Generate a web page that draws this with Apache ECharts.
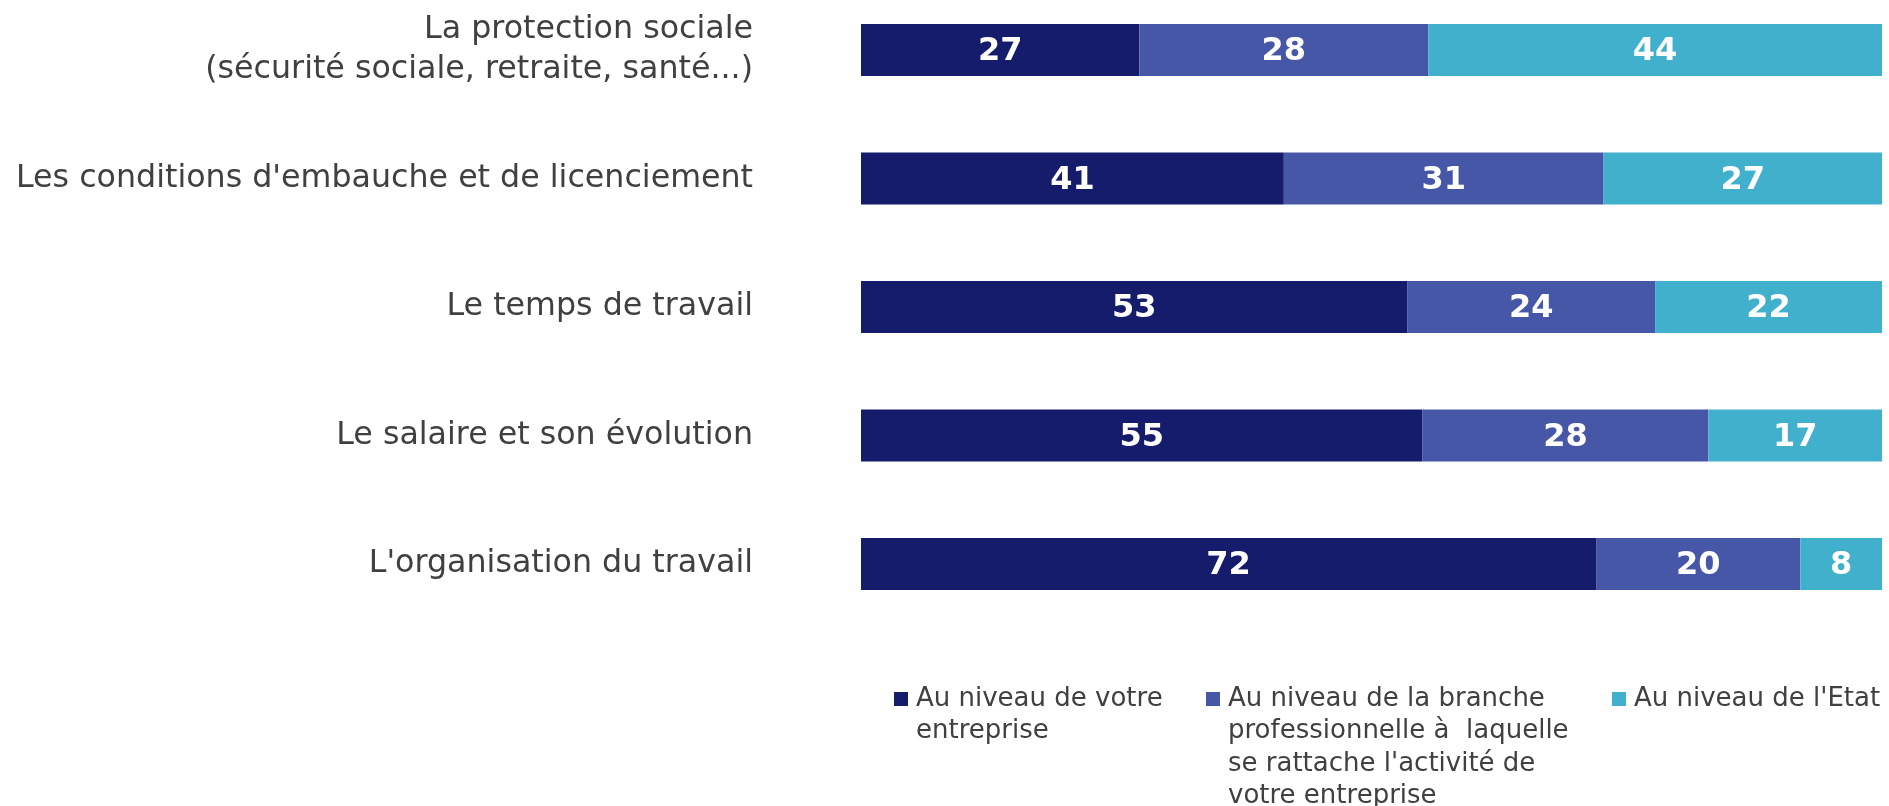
<!DOCTYPE html>
<html>
<head>
<meta charset="utf-8">
<script src="https://cdn.jsdelivr.net/npm/echarts@6/dist/echarts.min.js"></script>
<style>
html,body{margin:0;padding:0;background:#fff;}
#chart{width:1889px;height:806px;}
</style>
</head>
<body>
<div id="chart"></div>
<script>
const categories = [
  "La protection sociale\n(sécurité sociale, retraite, santé...)",
  "Les conditions d'embauche et de licenciement",
  "Le temps de travail",
  "Le salaire et son évolution",
  "L'organisation du travail"
];
const seriesNames = ["Au niveau de votre entreprise", "Au niveau de la branche professionnelle", "Au niveau de l'Etat"];
const legendLabels = [
  "Au niveau de votre\nentreprise",
  "Au niveau de la branche\nprofessionnelle à  laquelle\nse rattache l'activité de\nvotre entreprise",
  "Au niveau de l'Etat"
];
const entreprise = [27, 41, 53, 55, 72];
const branche = [28, 31, 24, 28, 20];
const etat = [44, 27, 22, 17, 8];
const colors = ["#141C6B", "#4757A7", "#41B0CC"];

const raw = [entreprise, branche, etat];
const totals = categories.map((c, i) => raw.reduce((s, arr) => s + arr[i], 0));

const FONT = "DejaVu Sans";
const LH = 32.5;
const legendLefts = [894, 1206, 1612];
const ICON_CY = 699;

const chart = echarts.init(document.getElementById('chart'));
const option = {
  animation: false,
  backgroundColor: '#ffffff',
  textStyle: {fontFamily: FONT},
  grid: {left: 861, right: 7, top: 50, height: 514, containLabel: false},
  xAxis: {type: 'value', min: 0, max: 100, show: false},
  yAxis: {
    type: 'category', inverse: true, data: categories, boundaryGap: false,
    axisLine: {show: false}, axisTick: {show: false}, splitLine: {show: false},
    axisLabel: {margin: 108, fontSize: 31.7, color: '#404040', fontFamily: FONT, lineHeight: 40, align: 'right'}
  },
  legend: seriesNames.map((n, k) => {
    const nLines = legendLabels[k].split('\n').length;
    return {
      left: legendLefts[k], top: ICON_CY - (2 * nLines - 1) * LH / 2, padding: 0, selectedMode: false,
      itemWidth: 14, itemHeight: 14, icon: 'rect',
      data: [{name: n}],
      formatter: () => '\n'.repeat(nLines - 1) + legendLabels[k],
      textStyle: {fontSize: 26, lineHeight: LH, color: '#404040', fontFamily: FONT, padding: [0, 0, 0, 3]}
    };
  }),
  series: raw.map((arr, k) => ({
    name: seriesNames[k],
    type: 'bar',
    stack: 'total',
    barWidth: 52,
    itemStyle: {color: colors[k]},
    label: {
      show: true, position: 'inside', color: '#ffffff', fontWeight: 'bold',
      fontSize: 32, fontFamily: FONT, offset: [0, 2],
      formatter: p => String(arr[p.dataIndex])
    },
    data: arr.map((v, i) => v / totals[i] * 100)
  }))
};
chart.setOption(option);
</script>
</body>
</html>
